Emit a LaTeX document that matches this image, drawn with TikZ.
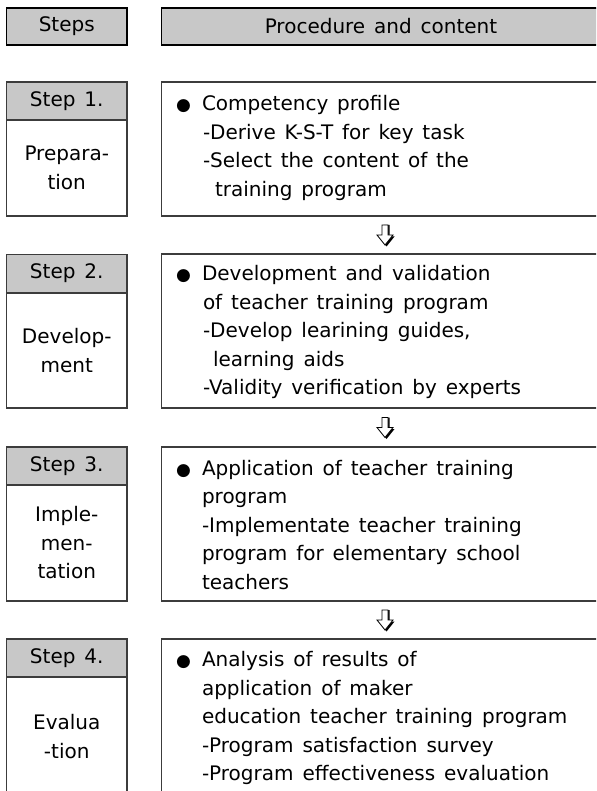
\documentclass[tikz,border=0pt]{standalone}
\usepackage{fontspec}
\setmainfont{DejaVu Sans}[WordSpace=1.4]
\definecolor{bandgray}{RGB}{200,200,200}
\definecolor{edge}{RGB}{60,60,60}
\tikzset{
  every node/.style={font=\fontsize{20}{28.5}\selectfont, inner sep=0pt, outer sep=0pt},
  headbox/.style={draw=black, line width=1.5pt, fill=bandgray, minimum height=37pt},
  bandbox/.style={draw=edge, line width=1.1pt, fill=bandgray, minimum width=120.5pt, minimum height=38pt},
  bodybox/.style={draw=edge, line width=1.1pt, minimum width=120.5pt, align=center},
  contentbox/.style={draw=edge, line width=1.2pt, minimum width=438.5pt},
  contenttext/.style={anchor=west, align=left},
  pics/downarrow/.style={code={
    \fill[black] (-1.5,-10) -- (4.5,-10) -- (4.5,1.5) -- (9.5,1.5) -- (1.5,11.5) -- (-6.5,1.5) -- (-1.5,1.5) -- cycle;
    \filldraw[fill=white, draw=black, line width=0.8pt] (-3,-10) -- (3,-10) -- (3,0) -- (8,0) -- (0,10) -- (-8,0) -- (-3,0) -- cycle;
  }}
}
\newcommand{\bul}{\makebox[26pt][l]{\fontsize{17}{28.5}\selectfont ●}}
\begin{document}
\begin{tikzpicture}[x=1pt, y=-1pt]
\useasboundingbox (0,0) rectangle (596,791);
\clip (0,0) rectangle (596,791);
% headers
\node[headbox, minimum width=120.5pt] (hsteps) at (66.75,26.5) {Steps};
\node[headbox, minimum width=438.5pt] (hproc) at (380.75,26.5) {};
\node (hproctext) at (381,26.5) {Procedure and content};
% step 1
\node[bandbox] (b1) at (66.75,101) {Step 1.};
\node[bodybox, minimum height=96pt] (l1) at (66.75,168) {Prepara-\\tion};
\node[contentbox, minimum height=134pt] (c1) at (380.75,149) {};
\node[contenttext] (t1) at (176,148) {\bul Competency profile\\
\hspace*{27pt}-Derive K-S-T for key task\\
\hspace*{27pt}-Select the content of the\\
\hspace*{39pt}training program};
% step 2
\node[bandbox] (b2) at (66.75,273.5) {Step 2.};
\node[bodybox, minimum height=115pt] (l2) at (66.75,350.5) {Develop-\\ment};
\node[contentbox, minimum height=154pt] (c2) at (380.75,331) {};
\node[contenttext] (t2) at (176,332) {\bul Development and validation\\
\hspace*{27pt}of teacher training program\\
\hspace*{27pt}-Develop learining guides,\\
\hspace*{37pt}learning aids\\
\hspace*{27pt}-Validity verification by experts};
% step 3
\node[bandbox] (b3) at (66.75,466) {Step 3.};
\node[bodybox, minimum height=116pt] (l3) at (66.75,543) {Imple-\\men-\\tation};
\node[contentbox, minimum height=154pt] (c3) at (380.75,524) {};
\node[contenttext] (t3) at (176,525) {\bul Application of teacher training\\
\hspace*{26pt}program\\
\hspace*{26pt}-Implementate teacher training\\
\hspace*{26pt}program for elementary school\\
\hspace*{26pt}teachers};
% step 4
\node[bandbox] (b4) at (66.75,658) {Step 4.};
\node[bodybox, minimum height=130pt] (l4) at (66.75,742) {};
\node (l4text) at (66.75,736.5) [align=center] {Evalua\\-tion};
\node[contentbox, minimum height=170pt] (c4) at (380.75,724) {};
\node[contenttext] (t4) at (176,718) {\bul Analysis of results of\\
\hspace*{26pt}application of maker\\
\hspace*{26pt}education teacher training program\\
\hspace*{26pt}-Program satisfaction survey\\
\hspace*{26pt}-Program effectiveness evaluation};
% arrows between stages
\pic at (385,235) {downarrow};
\pic at (385,427.5) {downarrow};
\pic at (385,620) {downarrow};
\end{tikzpicture}
\end{document}
